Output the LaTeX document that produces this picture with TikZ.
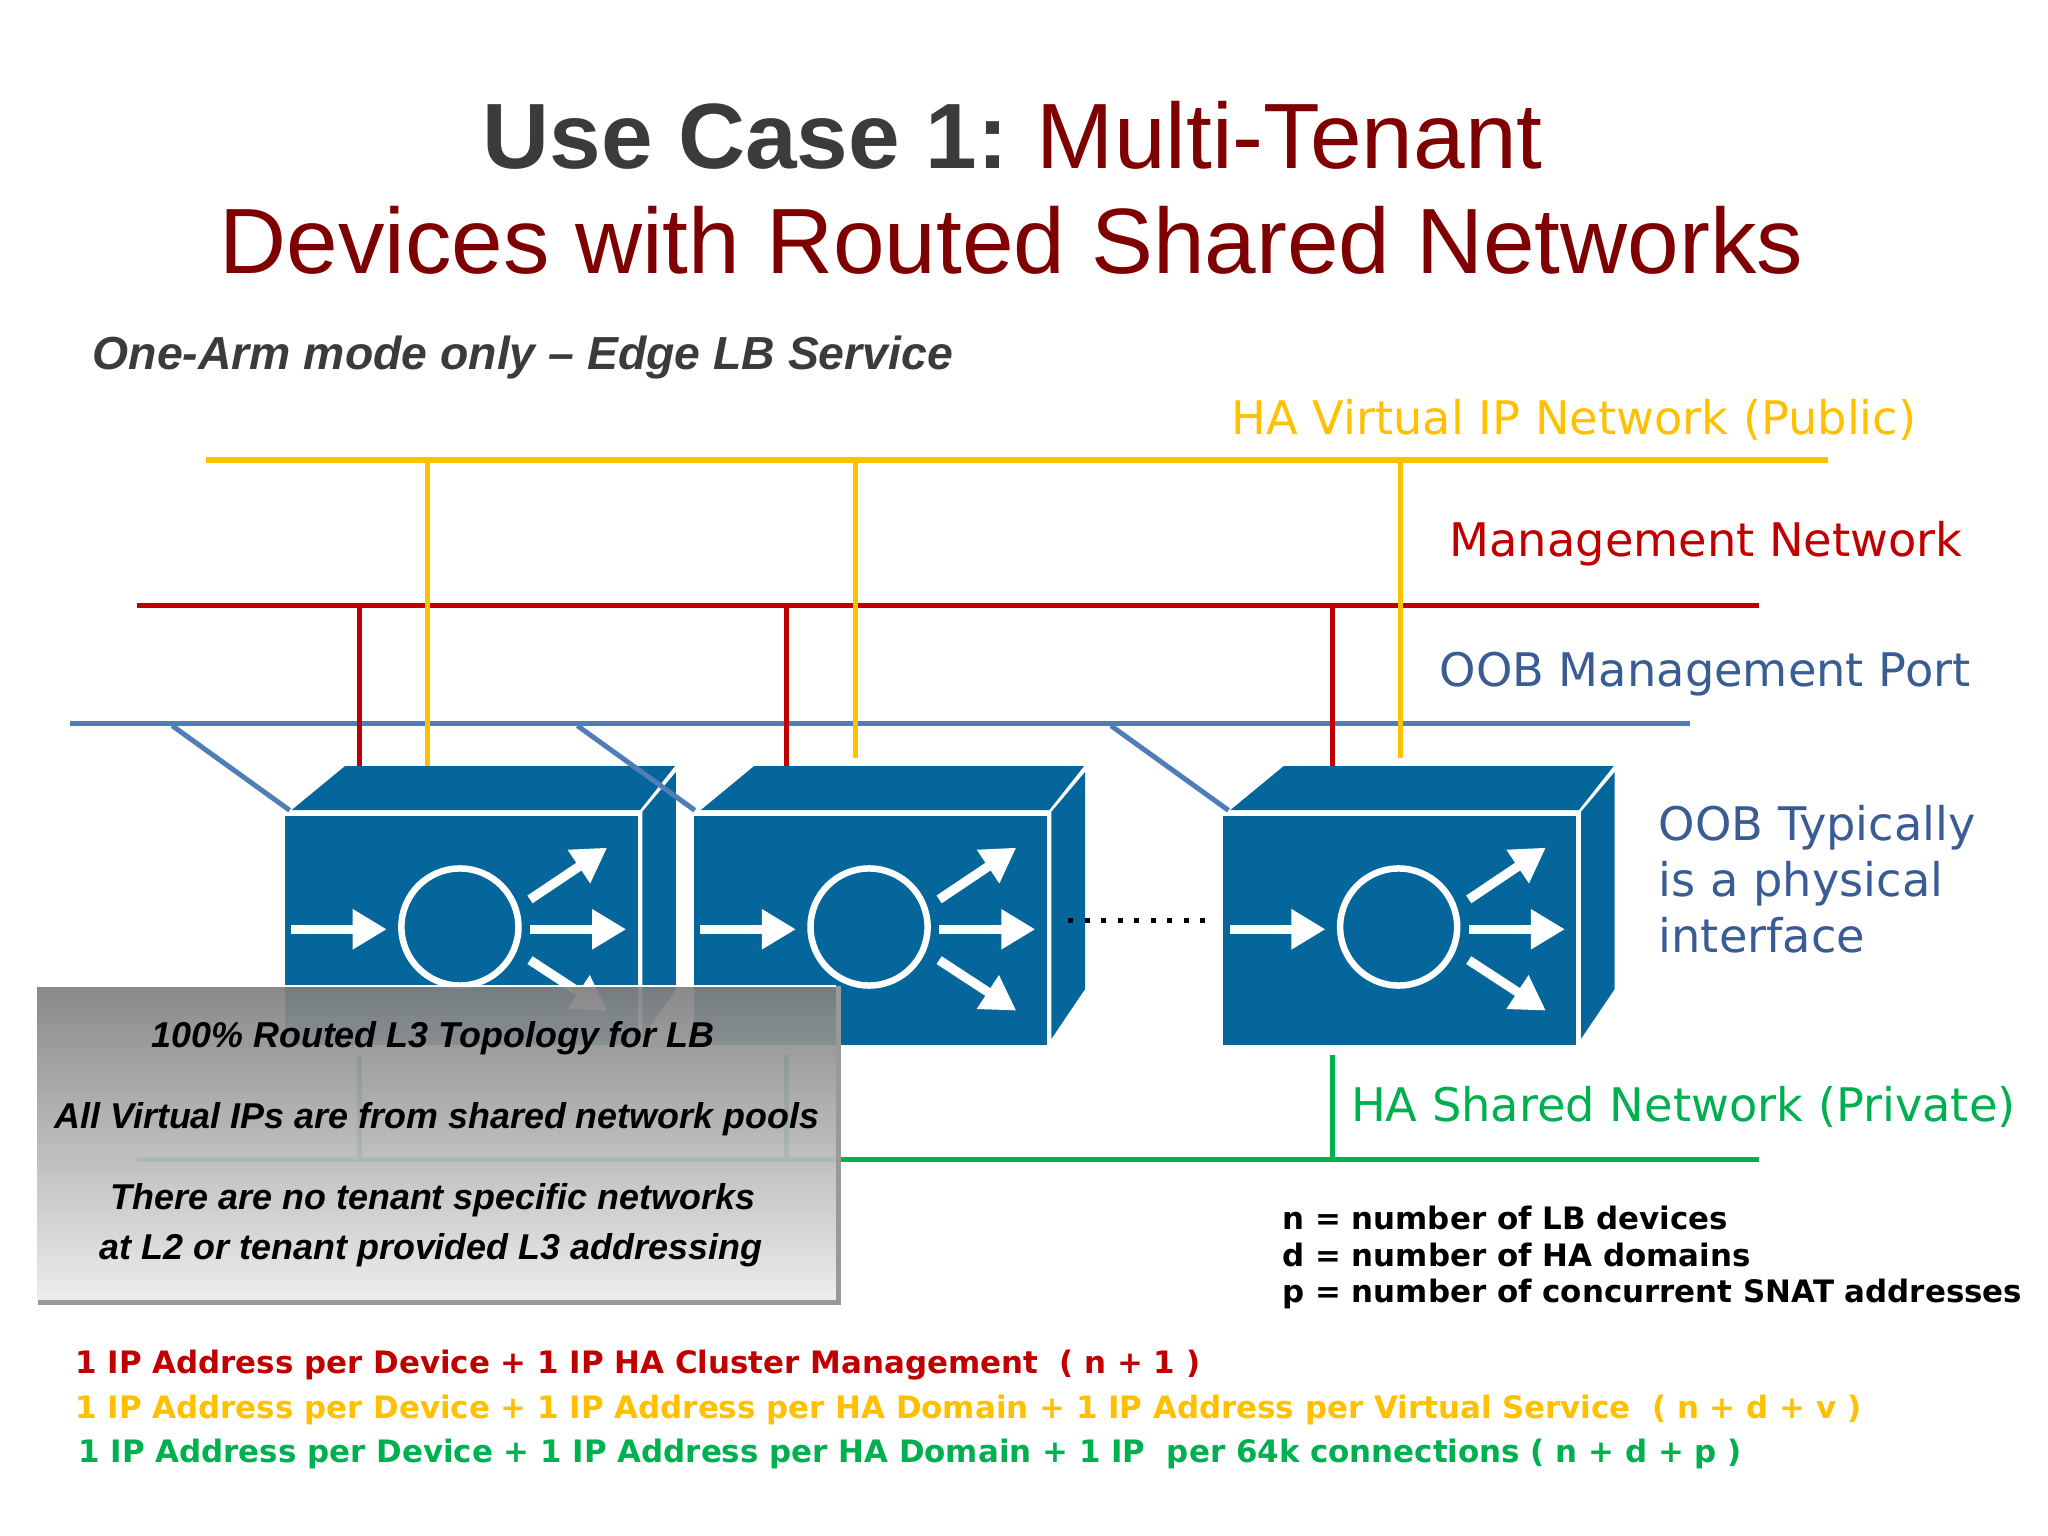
\documentclass[tikz,border=0pt]{standalone}
\usepackage{fontspec}
\usetikzlibrary{arrows.meta}
\setmainfont{Liberation Sans}
\newfontfamily\djf{DejaVu Sans}
\definecolor{cyellow}{HTML}{FFC000}
\definecolor{cred}{HTML}{C00000}
\definecolor{cblue}{HTML}{4F7DB8}
\definecolor{ctextblue}{HTML}{3A5C94}
\definecolor{cgreen}{HTML}{00B050}
\definecolor{cdev}{HTML}{05669B}
\definecolor{cdark}{HTML}{3B3B3B}
\definecolor{ctitle}{HTML}{7F0000}
\newcommand{\fs}[1]{\fontsize{#1}{#1}\selectfont}
\tikzset{
  net/.style={line width=5.5pt},
  drop/.style={line width=5pt},
  label/.style={anchor=west,inner sep=0pt,font=\djf\fs{46.3}},
  legend/.style={anchor=west,inner sep=0pt,font=\djf\bfseries\fs{30.9}},
  boxtext/.style={inner sep=0pt,font=\bfseries\itshape\fs{35.9}},
  wharrow/.style={white,line width=9.3pt,-{Triangle[length=34pt,width=38pt]}},
  device/.pic={
    \fill[cdev] (0,50.2) rectangle (354.6,280.5);
    \fill[cdev] (7,44.2) -- (60.6,0) -- (392,0) -- (357,44.2) -- cycle;
    \fill[cdev] (359.2,46) -- (393,6) -- (393,224) -- (359.2,274) -- cycle;
    \draw[white,line width=6.5pt] (176,161.7) circle[radius=58.8];
    \draw[wharrow] (6.3,164) -- (102.5,164);
    \draw[wharrow] (246.4,164) -- (343,164);
    \draw[wharrow] (246.4,134) -- (323.9,82);
    \draw[wharrow] (246.4,195) -- (323.9,245.7);
  }
}
\begin{document}
\begin{tikzpicture}[x=0.9955pt,y=-0.9955pt]
\useasboundingbox (0,0) rectangle (2057.3,1542);
% title
\node (t1) at (1017,136) [inner sep=0pt,font=\fs{92.8}] {\textcolor{cdark}{\bfseries Use Case 1:}\hspace{-6pt} \textcolor{ctitle}{Multi-Tenant}};
\node (t2) at (1016,241.6) [inner sep=0pt,font=\fs{92.8},text=ctitle] {Devices with Routed Shared Networks};
\node (sub) at (93,359) [anchor=west,inner sep=0pt,font=\bfseries\itshape\fs{46.35},text=cdark] {One-Arm mode only – Edge LB Service};
% network ends
\coordinate (yl) at (207,462); \coordinate (yr) at (1836,462);
\coordinate (rl) at (138,608); \coordinate (rr) at (1767,608);
\coordinate (bl) at (70,727);  \coordinate (br) at (1698,727);
\coordinate (gl) at (138,1165); \coordinate (gr) at (1767,1165);
% oob line and its taps
\draw[net,cblue] (bl) -- (br);
\coordinate (b1) at (173,729); \coordinate (b1e) at (291,814);
\coordinate (b2) at (580,729); \coordinate (b2e) at (698,814);
\coordinate (b3) at (1116,729); \coordinate (b3e) at (1234,814);
% devices
\pic at (286,769.5) {device};
\pic at (697,769.5) {device};
\pic at (1229,769.5) {device};
\draw[drop,cblue] (b1) -- (b1e);
\draw[drop,cblue] (b2) -- (b2e);
\draw[drop,cblue] (b3) -- (b3e);
% management
\draw[net,cred] (rl) -- (rr);
\coordinate (r1) at (361,608); \coordinate (r1e) at (361,769);
\coordinate (r2) at (790,608); \coordinate (r2e) at (790,769);
\coordinate (r3) at (1339,608); \coordinate (r3e) at (1339,769);
\draw[drop,cred] (r1) -- (r1e);
\draw[drop,cred] (r2) -- (r2e);
\draw[drop,cred] (r3) -- (r3e);
% virtual ip
\coordinate (y1) at (429,462); \coordinate (y1e) at (429,769);
\coordinate (y2) at (859,462); \coordinate (y2e) at (859,761);
\coordinate (y3) at (1407,462); \coordinate (y3e) at (1407,761);
\draw[drop,cyellow] (y1) -- (y1e);
\draw[drop,cyellow] (y2) -- (y2e);
\draw[drop,cyellow] (y3) -- (y3e);
\draw[net,cyellow] (yl) -- (yr);
% ha shared
\draw[net,cgreen] (gl) -- (gr);
\coordinate (g1) at (361,1060); \coordinate (g1e) at (361,1165);
\coordinate (g2) at (790,1060); \coordinate (g2e) at (790,1165);
\coordinate (g3) at (1339,1060); \coordinate (g3e) at (1339,1165);
\draw[drop,cgreen] (g1) -- (g1e);
\draw[drop,cgreen] (g2) -- (g2e);
\draw[drop,cgreen] (g3) -- (g3e);
% dots
\coordinate (d1) at (1073,925); \coordinate (d2) at (1221,925);
\draw[black,line width=5pt,dash pattern=on 5pt off 11.5pt] (d1) -- (d2);
% labels
\node (lha) at (1237,422) [label,text=cyellow] {HA Virtual IP Network (Public)};
\node (lmg) at (1456,546) [label,text=cred] {Management Network};
\node (loob) at (1446,677) [label,text=ctextblue] {OOB Management Port};
\node (lo1) at (1666,831) [label,text=ctextblue] {OOB Typically};
\node (lo2) at (1666,888) [label,text=ctextblue] {is a physical};
\node (lo3) at (1666,939.5) [label,text=ctextblue] {interface};
\node (lsh) at (1357,1112) [label,text=cgreen] {HA Shared Network (Private)};
% legend
\node (ln) at (1288,1224) [legend] {n = number of LB devices};
\node (ld) at (1288,1261) [legend] {d = number of HA domains};
\node (lp) at (1288,1299.5) [legend] {p = number of concurrent SNAT addresses};
% bottom
\node (e1) at (75.5,1371) [legend,text=cred] {1 IP Address per Device + 1 IP HA Cluster Management\ \ ( n + 1 )};
\node (e2) at (75.5,1416) [legend,text=cyellow] {1 IP Address per Device + 1 IP Address per HA Domain + 1 IP Address per Virtual Service\ \ ( n + d + v )};
\node (e3) at (78.5,1460.5) [legend,text=cgreen] {1 IP Address per Device + 1 IP Address per HA Domain + 1 IP\ \ per 64k connections ( n + d + p )};
% callout
\shade[top color=black!50,bottom color=black!8,fill opacity=0.92,draw=none] (37.5,991) rectangle (840,1306);
\draw[white,line width=2pt] (36.5,1308) -- (36.5,990) -- (840,990);
\draw[black!40,line width=5pt] (38,1308) -- (842,1308) -- (842,990);
\node (c1) at (435,1043) [boxtext] {100\% Routed L3 Topology for LB};
\node (c2) at (439,1124) [boxtext] {All Virtual IPs are from shared network pools};
\node (c3) at (435,1206) [boxtext] {There are no tenant specific networks};
\node (c4) at (433,1256) [boxtext] {at L2 or tenant provided L3 addressing};
\end{tikzpicture}
\end{document}
